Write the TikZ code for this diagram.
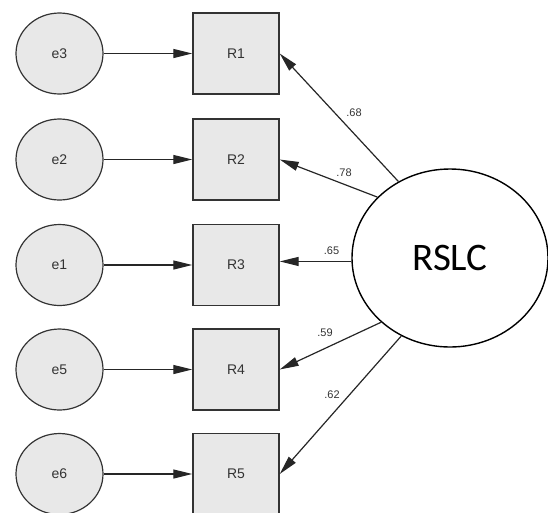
\documentclass[tikz,border=0pt]{standalone}
\usepackage{fontspec}
\setmainfont{Liberation Sans}
\newfontfamily\bigfont{Carlito}
\usetikzlibrary{shapes.geometric,arrows.meta}
\definecolor{boxfill}{HTML}{E8E8E8}
\definecolor{edge}{HTML}{333333}
\tikzset{
  errnode/.style={ellipse,draw=edge,line width=1.2pt,fill=boxfill,minimum width=87pt,minimum height=81pt,inner sep=0pt,font=\fontsize{14}{16}\selectfont,text=edge},
  obsnode/.style={rectangle,draw=edge,line width=1.4pt,fill=boxfill,minimum width=86pt,minimum height=81pt,inner sep=0pt,font=\fontsize{14}{16}\selectfont,text=edge},
  latnode/.style={ellipse,draw=black,line width=1.4pt,fill=white,minimum width=196pt,minimum height=178pt,inner sep=0pt,font=\bigfont\fontsize{39}{44}\selectfont},
  arr/.style={draw=black!85,line width=1.2pt,-{Triangle[length=19pt,width=9pt]}},
  lbl/.style={font=\fontsize{11}{13}\selectfont,text=edge,inner sep=0pt}
}
\begin{document}
\begin{tikzpicture}[x=1pt,y=-1pt]
\useasboundingbox (0,0) rectangle (548,512);
\clip (0,0) rectangle (548,512);
\node[errnode] (e3) at (59.5,53.5) {e3};
\node[errnode] (e2) at (59.5,159.5) {e2};
\node[errnode] (e1) at (59.5,265) {e1};
\node[errnode] (e5) at (59.5,369.5) {e5};
\node[errnode] (e6) at (59.5,474) {e6};
\node[obsnode] (R1) at (236,53.5) {R1};
\node[obsnode] (R2) at (236,159.5) {R2};
\node[obsnode] (R3) at (236,265) {R3};
\node[obsnode] (R4) at (236,369.5) {R4};
\node[obsnode] (R5) at (236,474) {R5};
\node[latnode] (L) at (450,258) {RSLC};
\draw[arr] (e3) -- (R1);
\draw[arr] (e2) -- (R2);
\draw[arr] (e1) -- (R3);
\draw[arr] (e5) -- (R4);
\draw[arr] (e6) -- (R5);
\draw[arr] (L.124) -- (R1.east);
\draw[arr] (L.140.6) -- (R2.east);
\draw[arr] (L.182) -- (R3.east |- L.182);
\draw[arr] (L.223) -- (R4.east);
\draw[arr] (L.238.7) -- (R5.east);
\node[lbl] (l1) at (354,113) {.68};
\node[lbl] (l2) at (344,173) {.78};
\node[lbl] (l3) at (331.5,251) {.65};
\node[lbl] (l4) at (325,333) {.59};
\node[lbl] (l5) at (332,395) {.62};
\end{tikzpicture}
\end{document}
